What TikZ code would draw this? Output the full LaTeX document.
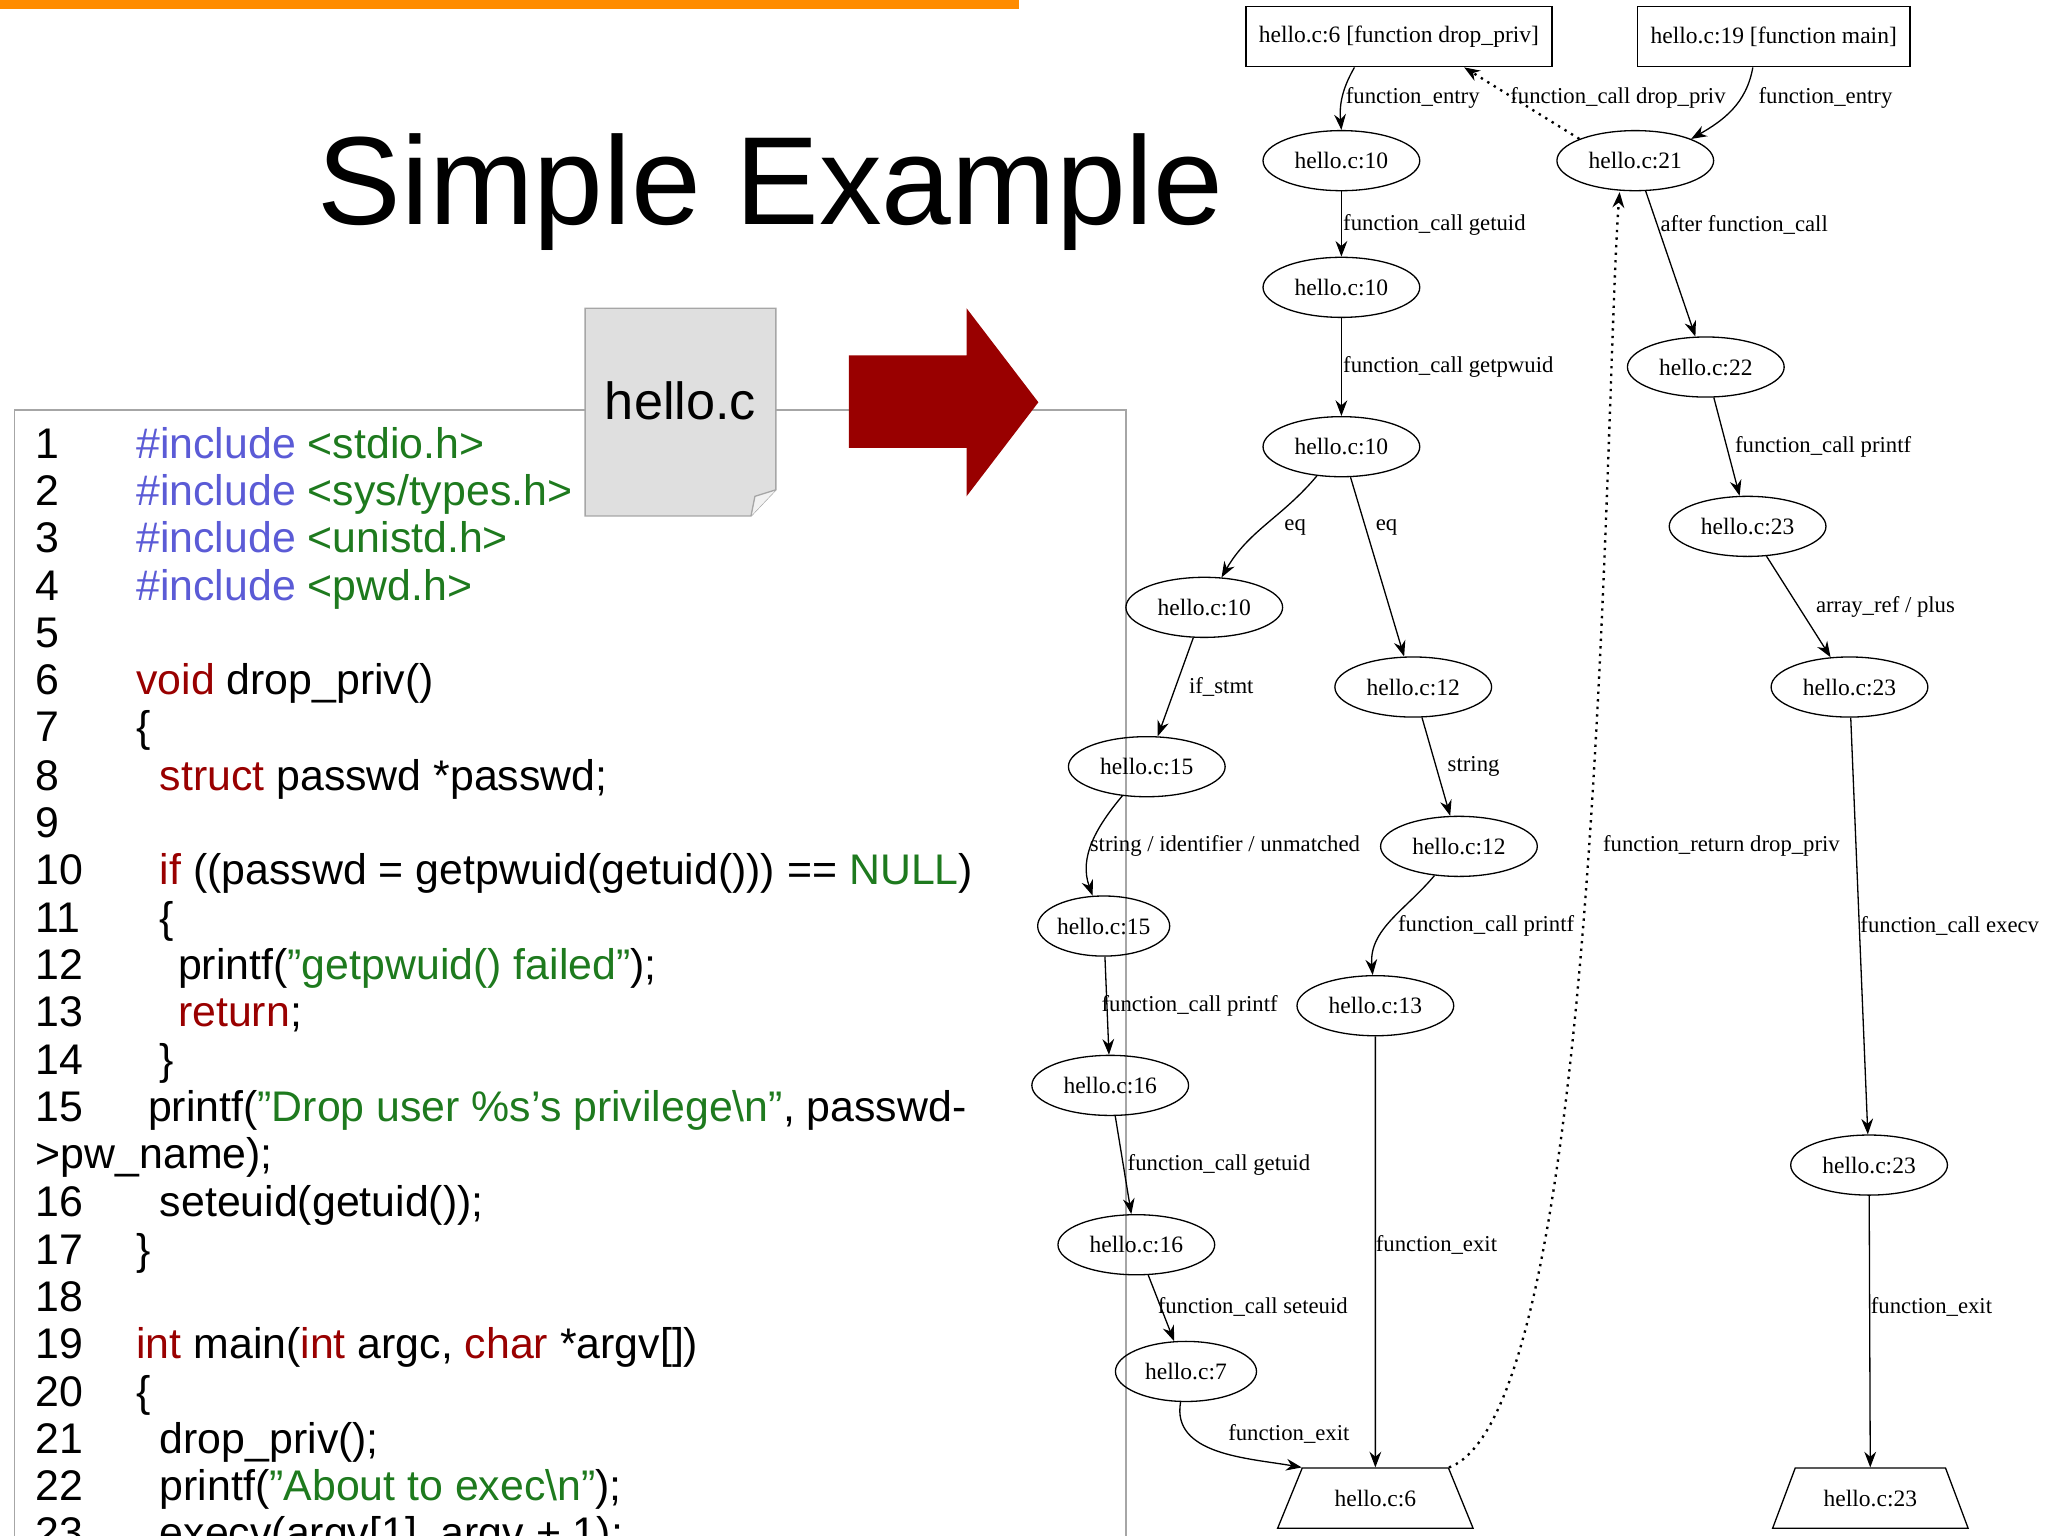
\documentclass[tikz,border=0pt]{standalone}
\usepackage{fontspec}
\setmainfont{Liberation Sans}
\newfontfamily\gfont{Liberation Serif}
\usetikzlibrary{shapes.geometric,arrows.meta}
\definecolor{kw}{HTML}{990000}
\definecolor{inc}{HTML}{5B5BD6}
\definecolor{str}{HTML}{1E7A1E}
\newcommand\dq{\symbol{34}}
\tikzset{
 gn/.style={draw,ellipse,minimum width=60pt,minimum height=23pt,inner sep=0pt,font=\gfont\fontsize{9}{10}\selectfont,line width=0.5pt},
 gb/.style={draw,rectangle,minimum height=23pt,inner xsep=5pt,font=\gfont\fontsize{9}{10}\selectfont,line width=0.6pt},
 gt/.style={draw,trapezium,trapezium angle=64,trapezium stretches=true,minimum width=75pt,minimum height=23pt,font=\gfont\fontsize{9}{10}\selectfont,line width=0.5pt},
 ge/.style={line width=0.5pt,-{Stealth[length=6pt,width=4.5pt]}},
 gd/.style={line width=0.9pt,dotted,-{Stealth[length=6pt,width=4.5pt]}},
 gl/.style={anchor=west,inner sep=0pt,font=\gfont\fontsize{8.7}{10}\selectfont},
 cl/.style={anchor=base west,inner sep=0pt,font=\fontsize{16.4}{19}\selectfont},
}
\begin{document}
\begin{tikzpicture}[x=0.5pt,y=-0.5pt]
\useasboundingbox (0,0) rectangle (1568,1176);
\clip (0,0) rectangle (1568,1176);
\fill[orange!90!yellow] (0,0) rectangle (780,7);
\node[font=\fontsize{48}{54}\selectfont] (title) at (590,147) {Simple Example};
\draw[gray!70,line width=0.6pt] (11,1180) -- (11,314) -- (862,314) -- (862,1180);
% document icon
\fill[gray!25] (448,236) -- (594,236) -- (594,375) -- (575,395) -- (448,395) -- cycle;
\draw[gray!70,line width=0.5pt] (448,236) -- (594,236) -- (594,375) -- (575,395) -- (448,395) -- cycle;
\draw[gray!70,line width=0.5pt,fill=gray!10] (594,375) -- (578,380) -- (575,395);
\node[font=\fontsize{20}{24}\selectfont] (doc) at (521,307) {hello.c};
% arrow
\fill[kw] (650,272) -- (740,272) -- (740,236) -- (795,308) -- (740,380) -- (740,343) -- (650,343) -- cycle;
% code
\foreach \n/\y in {1/351,2/387,3/423,4/460,5/496,6/532,7/568,8/605,9/641,10/677,11/714,12/750,13/786,14/823,15/859,16/931,17/968,18/1004,19/1040,20/1077,21/1113,22/1149,23/1185}
  \node[cl] at (27,\y) {\n};
\node[cl] at (104,351) {\textcolor{inc}{\#include} \textcolor{str}{<stdio.h>}};
\node[cl] at (104,387) {\textcolor{inc}{\#include} \textcolor{str}{<sys/types.h>}};
\node[cl] at (104,423) {\textcolor{inc}{\#include} \textcolor{str}{<unistd.h>}};
\node[cl] at (104,460) {\textcolor{inc}{\#include} \textcolor{str}{<pwd.h>}};
\node[cl] at (104,532) {\textcolor{kw}{void} drop\_priv()};
\node[cl] at (104,568) {\{};
\node[cl] at (122,605) {\textcolor{kw}{struct} passwd *passwd;};
\node[cl] at (122,677) {\textcolor{kw}{if} ((passwd = getpwuid(getuid())) == \textcolor{str}{NULL})};
\node[cl] at (122,714) {\{};
\node[cl] at (136,750) {printf(\textcolor{str}{\dq getpwuid() failed\dq});};
\node[cl] at (136,786) {\textcolor{kw}{return};};
\node[cl] at (122,823) {\}};
\node[cl] at (113,859) {printf(\textcolor{str}{\dq Drop user \%s\symbol{39}s privilege\textbackslash n\dq}, passwd-};
\node[cl] at (27,895) {>pw\_name);};
\node[cl] at (122,931) {seteuid(getuid());};
\node[cl] at (104,968) {\}};
\node[cl] at (104,1040) {\textcolor{kw}{int} main(\textcolor{kw}{int} argc, \textcolor{kw}{char} *argv[])};
\node[cl] at (104,1077) {\{};
\node[cl] at (122,1113) {drop\_priv();};
\node[cl] at (122,1149) {printf(\textcolor{str}{\dq About to exec\textbackslash n\dq});};
\node[cl] at (122,1185) {execv(argv[1], argv + 1);};
% graph
\node[gb] (dp) at (1071,28) {hello.c:6 [function drop\_priv]};
\node[gb] (mn) at (1358,28) {hello.c:19 [function main]};
\node[gn] (a) at (1027,123) {hello.c:10};
\node[gn] (b) at (1027,220) {hello.c:10};
\node[gn] (c) at (1027,342) {hello.c:10};
\node[gn] (d) at (922,465) {hello.c:10};
\node[gn] (e) at (1082,526) {hello.c:12};
\node[gn] (f) at (878,587) {hello.c:15};
\node[gn] (g) at (1117,648) {hello.c:12};
\node[gn,minimum width=47pt] (h) at (845,709) {hello.c:15};
\node[gn] (i) at (1053,770) {hello.c:13};
\node[gn] (j) at (850,831) {hello.c:16};
\node[gn] (k) at (870,953) {hello.c:16};
\node[gn,minimum width=54pt] (l) at (908,1050) {hello.c:7};
\node[gt] (m) at (1053,1147) {hello.c:6};
\node[gn] (n) at (1252,123) {hello.c:21};
\node[gn] (r1) at (1306,281) {hello.c:22};
\node[gn] (r2) at (1338,403) {hello.c:23};
\node[gn] (r3) at (1416,526) {hello.c:23};
\node[gn] (r4) at (1431,892) {hello.c:23};
\node[gt] (r5) at (1432,1147) {hello.c:23};
\coordinate (dps) at ([xshift=-17pt]dp.south);
\coordinate (dpt) at ([xshift=25pt]dp.south);
\coordinate (mns) at ([xshift=-8pt]mn.south);
\draw[ge] (dps) to[out=-120,in=95] (a.north);
\draw[ge] (mns) to[out=-100,in=30] (n.north east);
\draw[gd] (n.north west) -- (dpt);
\draw[ge] (a) -- (b);
\draw[ge] (b) -- (c);
\draw[ge] (c) to[out=-130,in=60] (d);
\draw[ge] (c) -- (e);
\draw[ge] (d) -- (f);
\draw[ge] (e) -- (g);
\draw[ge] (f) to[out=-130,in=110] (h);
\draw[ge] (g) to[out=-130,in=95] (i);
\draw[ge] (h) -- (j);
\draw[ge] (i) -- (m);
\draw[ge] (j) -- (k);
\draw[ge] (k) -- (l);
\draw[ge] (l) to[out=-100,in=170] (m.top left corner);
\coordinate (nin) at (1240,147);
\draw[gd] (m.top right corner) .. controls (1228,1080) and (1228,300) .. (nin);
\draw[ge] (n) -- (r1);
\draw[ge] (r1) -- (r2);
\draw[ge] (r2) -- (r3);
\draw[ge] (r3) -- (r4);
\draw[ge] (r4) -- (r5);
\node[gl] at (1030,75) {function\_entry};
\node[gl] at (1346,75) {function\_entry};
\node[gl] at (1156,75) {function\_call drop\_priv};
\node[gl] at (1028,172) {function\_call getuid};
\node[gl] at (1028,281) {function\_call getpwuid};
\node[gl] at (983,404) {eq};
\node[gl] at (1053,404) {eq};
\node[gl] at (910,526) {if\_stmt};
\node[gl] at (1108,587) {string};
\node[gl] at (834,648) {string / identifier / unmatched};
\node[gl] at (1070,709) {function\_call printf};
\node[gl] at (843,770) {function\_call printf};
\node[gl] at (1053,953) {function\_exit};
\node[gl] at (863,892) {function\_call getuid};
\node[gl] at (886,1001) {function\_call seteuid};
\node[gl] at (940,1098) {function\_exit};
\node[gl] at (1227,648) {function\_return drop\_priv};
\node[gl] at (1271,172) {after function\_call};
\node[gl] at (1328,342) {function\_call printf};
\node[gl] at (1390,465) {array\_ref / plus};
\node[gl] at (1424,709) {function\_call execv};
\node[gl] at (1432,1001) {function\_exit};
\end{tikzpicture}
\end{document}
